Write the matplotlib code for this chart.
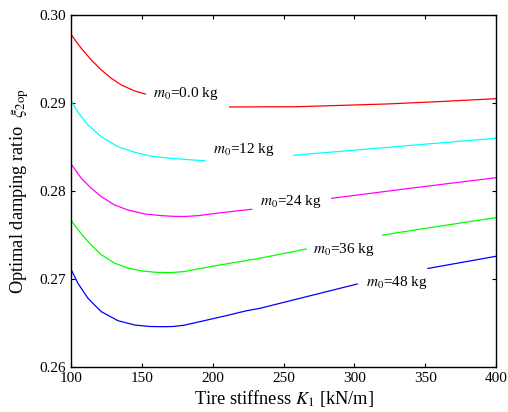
import numpy as np
import matplotlib
matplotlib.use("Agg")
import matplotlib.pyplot as plt

plt.rcParams['font.family'] = ['Liberation Serif', 'DejaVu Serif']
plt.rcParams['mathtext.fontset'] = 'stix'

nan = np.nan
# Tire stiffness K1 [kN/m] and optimal damping ratio; NaN = gap left for the label
k_m0_00 = [100, 104, 107.3, 114.3, 121.4, 128.5, 135.5, 145, 152.5, nan,
           212, 260, 323, 360, 400]
xi_m0_00 = [0.2978, 0.2969, 0.29621, 0.29489, 0.29375, 0.29280, 0.29205, 0.29136, 0.29102, nan,
            0.28955, 0.28958, 0.28989, 0.29016, 0.29049]

k_m0_12 = [100, 105, 112, 121.4, 133.2, 140.2, 145, 155.8, 165, 175, 185, 194.6, nan,
           257, 300, 350, 400]
xi_m0_12 = [0.2903, 0.28894, 0.28750, 0.28617, 0.28503, 0.28466, 0.28440, 0.28398, 0.28380,
            0.28366, 0.28354, 0.28344, nan,
            0.28406, 0.28464, 0.28532, 0.28600]

k_m0_24 = [100, 107.3, 114.3, 121.4, 130.8, 140.2, 152, 163.7, 172, 180, 190, 202.8, 215, 227.5, nan,
           284, 340, 400]
xi_m0_24 = [0.28307, 0.28144, 0.28031, 0.27935, 0.27841, 0.27784, 0.27739, 0.27720, 0.27712,
            0.27710, 0.27720, 0.27747, 0.27770, 0.27792, nan,
            0.27917, 0.28032, 0.28151]

k_m0_36 = [100, 104, 108, 114, 121, 130.8, 140, 150, 160, 170, 180, 198, 233, 266, nan,
           320, 360, 400]
xi_m0_36 = [0.2767, 0.2758, 0.2750, 0.2739, 0.2728, 0.27180, 0.27125, 0.27092, 0.27076, 0.27072,
            0.27085, 0.27140, 0.27235, 0.27341, nan,
            0.27500, 0.27600, 0.27697]

k_m0_48 = [100, 104.9, 112, 121.4, 133.2, 145, 155.8, 165, 172, 180, 195, 210, 223, 233.4, 260, 302, nan,
           352, 400]
xi_m0_48 = [0.27110, 0.26951, 0.26780, 0.26628, 0.26526, 0.26477, 0.26460, 0.26458, 0.26460,
            0.26475, 0.26530, 0.26585, 0.26636, 0.26667, 0.26774, 0.26943, nan,
            0.27120, 0.27258]

series = [
    (k_m0_00, xi_m0_00, '#ff0000', r'$m_0$=0.0 kg'),
    (k_m0_12, xi_m0_12, '#00ffff', r'$m_0$=12 kg'),
    (k_m0_24, xi_m0_24, '#ff00ff', r'$m_0$=24 kg'),
    (k_m0_36, xi_m0_36, '#00ff00', r'$m_0$=36 kg'),
    (k_m0_48, xi_m0_48, '#0000ff', r'$m_0$=48 kg'),
]
label_pos = [(158, 0.29065), (200.5, 0.28435), (233.4, 0.27841), (271, 0.27292), (308, 0.26924)]

x_ticks = [100, 150, 200, 250, 300, 350, 400]
y_ticks = [0.26, 0.27, 0.28, 0.29, 0.30]

fig = plt.figure(figsize=(5.08, 4.12), dpi=100)
ax = fig.add_axes([71/508, 45/412, 425/508, 352/412])

for (k, xi, c, lab), (lx, ly) in zip(series, label_pos):
    ax.plot(k, xi, color=c, lw=0.9, solid_joinstyle='round')
    ax.text(lx, ly, lab, fontsize=11, va='baseline', ha='left')

ax.set_xlim(100, 400)
ax.set_ylim(0.26, 0.30)
ax.set_xticks(x_ticks)
ax.set_yticks(y_ticks)
ax.set_yticklabels([f'{v:.2f}' for v in y_ticks])
ax.tick_params(direction='in', top=True, right=True, length=3, width=0.8, labelsize=11)
for s in ax.spines.values():
    s.set_linewidth(1.0)
ax.set_xlabel(r'Tire stiffness $K_1$ [kN/m]', fontsize=13.2, labelpad=2)
ax.set_ylabel(r'Optimal damping ratio  $\xi_{\mathrm{2op}}$', fontsize=13.2, labelpad=6)

fig.savefig('out.png', dpi=100)
